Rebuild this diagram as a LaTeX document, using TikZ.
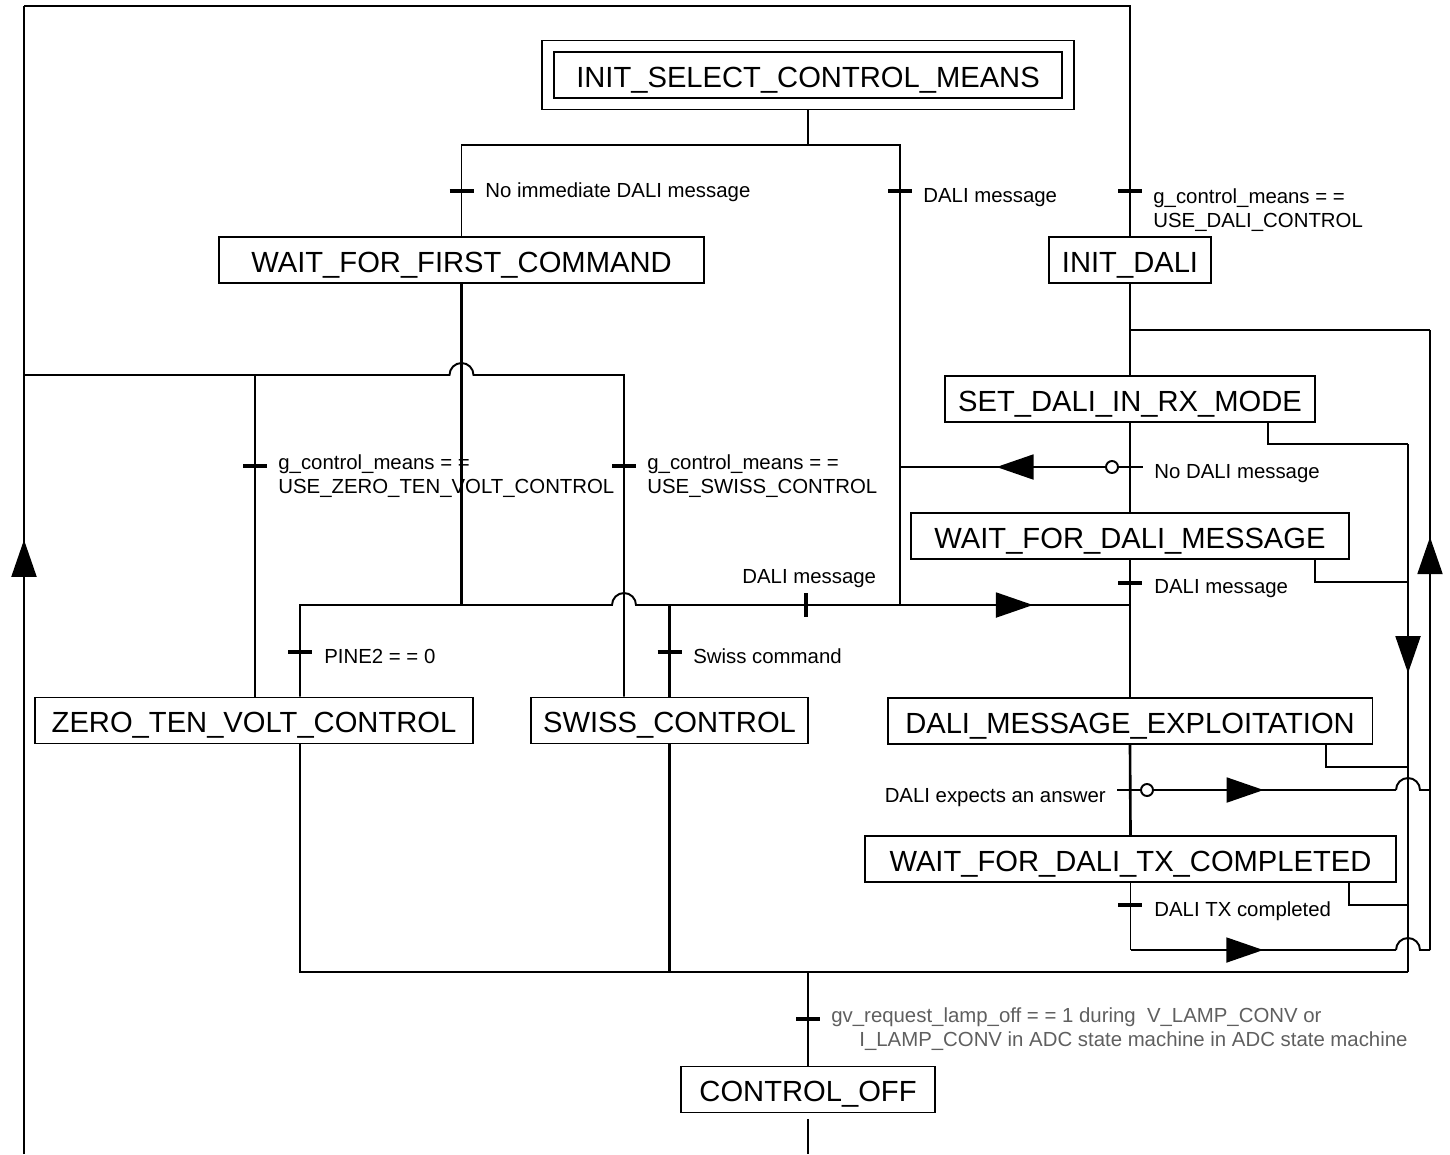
\documentclass[tikz,border=0pt]{standalone}
\usepackage{fontspec}
\setmainfont{Liberation Sans}
\usetikzlibrary{arrows.meta,calc,decorations.markings}

\definecolor{lampgray}{RGB}{95,95,95}

\tikzset{
  state/.style={draw, line width=1.1pt, minimum height=0.92cm, inner sep=0pt,
    text height=14.1pt, text depth=0pt, font=\fontsize{16.6}{20}\selectfont},
  cond/.style={inner sep=0pt, font=\fontsize{11.6}{13.6}\selectfont},
  flow/.style={line width=1.1pt},
  heavy/.style={line width=1.5pt},
  tick/.style={line width=1.8pt},
  dot/.style={circle, draw, fill=white, line width=1.1pt, inner sep=0pt, minimum size=0.24cm},
  tipat/.style={postaction={decorate, decoration={markings,
    mark=at position #1 with {\arrow{Triangle[length=0.74cm,width=0.5cm]}}}}},
}

\begin{document}
\begin{tikzpicture}[x=0.02cm, y=-0.02cm]
    \useasboundingbox (0,0) rectangle (1450,1154);

    % states
    \node[state, minimum width=10.18cm] (init) at (808,75) {INIT\_SELECT\_CONTROL\_MEANS};
    \node[draw, line width=1.1pt, minimum width=10.64cm, minimum height=1.38cm] (initframe) at (init) {};
    \node[state, minimum width=9.72cm] (wfc) at (461.5,260) {WAIT\_FOR\_FIRST\_COMMAND};
    \node[state, minimum width=3.24cm] (idali) at (1130,260) {INIT\_DALI};
    \node[state, minimum width=7.40cm] (rx) at (1130,399) {SET\_DALI\_IN\_RX\_MODE};
    \node[state, minimum width=8.76cm] (wdm) at (1130,536) {WAIT\_FOR\_DALI\_MESSAGE};
    \node[state, minimum width=8.76cm] (ztv) at (254,720.5) {ZERO\_TEN\_VOLT\_CONTROL};
    \node[state, minimum width=5.54cm] (swiss) at (669.5,720.5) {SWISS\_CONTROL};
    \node[state, minimum width=9.70cm] (dme) at (1130,721) {DALI\_MESSAGE\_EXPLOITATION};
    \node[state, minimum width=10.62cm] (wtx) at (1130.5,859) {WAIT\_FOR\_DALI\_TX\_COMPLETED};
    \node[state, minimum width=5.08cm] (off) at (808,1089.5) {CONTROL\_OFF};

    % junctions
    \coordinate (tl) at (24,6);
    \coordinate (bl) at (24,1154);
    \coordinate (fork) at (808,145);
    \coordinate (busR) at (900,605);
    \coordinate (noMsg) at (900,467);
    \coordinate (selBus) at (24,375);
    \coordinate (zSel) at (255,375);
    \coordinate (sSel) at (624,375);
    \coordinate (zPine) at (300,605);
    \coordinate (busB) at (1408,972);
    \coordinate (rxOut) at (1268,444);
    \coordinate (wdmOut) at (1315,582);
    \coordinate (dmeOut) at (1326,767);
    \coordinate (wtxOut) at (1349,905);
    \coordinate (loopR) at (1430,950);
    \coordinate (loopT) at (1430,330);

    \node[dot] (nc) at (1112,467) {};
    \node[dot] (dc) at (1147,790) {};

    % frame and return line
    \draw[flow, tipat=0.535] (bl) -- (tl);
    \draw[flow] (tl) -- (tl -| idali) -- (idali.north);

    % choice of control means
    \draw[flow] (initframe.south) -- (fork);
    \draw[flow] (wfc.north) |- (fork) -| (busR);
    \draw[heavy] (wfc.south) -- (wfc.south |- zPine);
    \draw[flow] (selBus) -- ($(wfc.south |- selBus)+(-12,0)$)
      arc[start angle=180, end angle=360, radius=12] -- (sSel) -- (sSel |- swiss.north);
    \draw[flow] (zSel) -- (zSel |- ztv.north);
    \draw[flow] (zPine |- ztv.north) -- (zPine) -- ($(sSel |- zPine)+(-12,0)$)
      arc[start angle=180, end angle=360, radius=12] -- (busR);
    \draw[flow, tipat=0.578] (busR) -- (wdm.south |- zPine);
    \draw[heavy] (swiss.north) -- (swiss.north |- zPine);

    % DALI chain
    \draw[heavy] (idali.south) -- (rx.north);
    \draw[heavy] (rx.south) -- (wdm.north);
    \draw[heavy] (wdm.south) -- (dme.north);
    \draw[heavy] (dme.south) -- (wtx.north);
    \draw[flow, tipat=0.529] (nc.west) -- (noMsg);
    \draw[flow] (nc.east) -- ++(24,0);
    \draw[flow] (dc.west) -- ++(-23,0);
    \draw[flow, tipat=0.453] (dc.east) -- ($(busB |- dc)+(-12,0)$);
    \draw[flow] ($(busB |- dc)+(-12,0)$) arc[start angle=180, end angle=360, radius=12] -- (loopR |- dc);
    \draw[flow] (wtx.south) -- (wtx.south |- loopR);
    \draw[flow, tipat=0.5] (wtx.south |- loopR) -- ($(busB |- loopR)+(-12,0)$);
    \draw[flow] ($(busB |- loopR)+(-12,0)$) arc[start angle=180, end angle=360, radius=12] -- (loopR);
    \draw[flow, tipat=0.666] (loopR) -- (loopT);
    \draw[flow] (loopT) -- (loopT -| idali);

    % way out to CONTROL_OFF
    \draw[flow] (rxOut |- rx.south) -- (rxOut) -- (rxOut -| busB);
    \draw[flow, tipat=0.434] (rxOut -| busB) -- (busB);
    \draw[flow] (wdmOut |- wdm.south) -- (wdmOut) -- (wdmOut -| busB);
    \draw[flow] (dmeOut |- dme.south) -- (dmeOut) -- (dmeOut -| busB);
    \draw[flow] (wtxOut |- wtx.south) -- (wtxOut) -- (wtxOut -| busB);
    \draw[flow] (busB) -- (zPine |- busB) -- (zPine |- ztv.south);
    \draw[heavy] (swiss.south) -- (swiss.south |- busB);
    \draw[heavy] (off.north |- busB) -- (off.north);
    \draw[heavy] ($(off.south)+(0,6)$) -- (off.south |- bl);

    % transition bars
    \draw[tick] (461.5,191) +(-12,0) -- +(12,0);
    \draw[tick] (900,191) +(-12,0) -- +(12,0);
    \draw[tick] (1130,191) +(-12,0) -- +(12,0);
    \draw[tick] (255,466) +(-12,0) -- +(12,0);
    \draw[tick] (624,466) +(-12,0) -- +(12,0);
    \draw[tick] (300,652) +(-12,0) -- +(12,0);
    \draw[tick] (669.5,652) +(-12,0) -- +(12,0);
    \draw[tick] (806,605) +(0,-12) -- +(0,12);
    \draw[tick] (1130,583) +(-12,0) -- +(12,0);
    \draw[tick] (1130,905) +(-12,0) -- +(12,0);
    \draw[tick] (808,1019) +(-12,0) -- +(12,0);

    % conditions
    \node[cond, anchor=base west] (cNoImm) at (485,197) {No immediate DALI message};
    \node[cond, anchor=base west] (cMsgTop) at (923,202) {DALI message};
    \node[cond, anchor=north west, align=left] (cUseDali) at (1153,188) {g\_control\_means = =\\USE\_DALI\_CONTROL};
    \node[cond, anchor=north west, align=left] (cUseZtv) at (278,454) {g\_control\_means = =\\USE\_ZERO\_TEN\_VOLT\_CONTROL};
    \node[cond, anchor=north west, align=left] (cUseSwiss) at (647,454) {g\_control\_means = =\\USE\_SWISS\_CONTROL};
    \node[cond, anchor=base west] (cNoDali) at (1154,478) {No DALI message};
    \node[cond, anchor=base west] (cMsgBus) at (742,583) {DALI message};
    \node[cond, anchor=base west] (cMsgDali) at (1154,593) {DALI message};
    \node[cond, anchor=base west] (cPine) at (324,663) {PINE2 = = 0};
    \node[cond, anchor=base west] (cSwissCmd) at (693,663) {Swiss command};
    \node[cond, anchor=base east] (cAnswer) at (1106,802) {DALI expects an answer};
    \node[cond, anchor=base west] (cTxDone) at (1154,916) {DALI TX completed};
    \node[cond, anchor=north west, align=left, text=lampgray] (cLampOff) at (831,1007)
      {gv\_request\_lamp\_off = = 1 during\ \ V\_LAMP\_CONV or\\
       \hspace{0.56cm}I\_LAMP\_CONV in ADC state machine in ADC state machine};
\end{tikzpicture}
\end{document}
